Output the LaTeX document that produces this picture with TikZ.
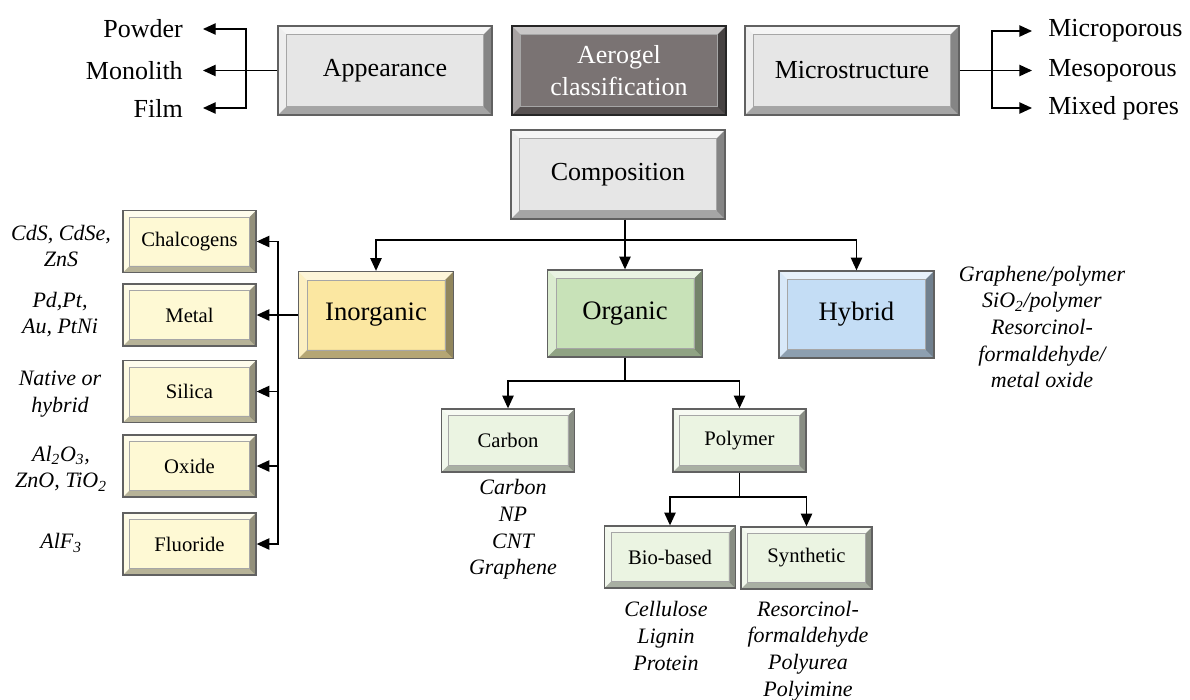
\documentclass[tikz,border=0pt]{standalone}
\usepackage{fontspec}
\setmainfont{Liberation Serif}
\usetikzlibrary{arrows.meta,calc}
\definecolor{facegray}{HTML}{E6E6E6}
\definecolor{faceaero}{HTML}{7A7373}
\definecolor{faceinorg}{HTML}{FBE7A1}
\definecolor{faceorg}{HTML}{C8E2B8}
\definecolor{facehyb}{HTML}{C4DDF5}
\definecolor{faceyel}{HTML}{FEF9D4}
\definecolor{facegrn}{HTML}{EBF4E2}
\tikzset{
  bv/.store in=\bvw, bv=6.5pt,
  bevel/.style={fill=#1, draw=black!62, line width=1pt, inner sep=0pt, align=center,
    path picture={
      \coordinate (q1) at (path picture bounding box.north west);
      \coordinate (q2) at (path picture bounding box.north east);
      \coordinate (q3) at (path picture bounding box.south east);
      \coordinate (q4) at (path picture bounding box.south west);
      \fill[white,opacity=.6] (q1) -- (q2) -- ([shift={(-\bvw,-\bvw)}]q2) -- ([shift={(\bvw,-\bvw)}]q1) -- cycle;
      \fill[white,opacity=.35] (q1) -- ([shift={(\bvw,-\bvw)}]q1) -- ([shift={(\bvw,\bvw)}]q4) -- (q4) -- cycle;
      \fill[black,opacity=.42] (q2) -- (q3) -- ([shift={(-\bvw,\bvw)}]q3) -- ([shift={(-\bvw,-\bvw)}]q2) -- cycle;
      \fill[black,opacity=.28] (q4) -- (q3) -- ([shift={(-\bvw,\bvw)}]q3) -- ([shift={(\bvw,\bvw)}]q4) -- cycle;
      \draw[black!35, line width=0.4pt] ([shift={(\bvw,-\bvw)}]q1) rectangle ([shift={(-\bvw,\bvw)}]q3);
    }},
  topbox/.style={bevel=#1, minimum width=160.5pt, minimum height=66.75pt, font=\fontsize{19.5}{24}\selectfont},
  midbox/.style={bevel=#1, minimum width=116.25pt, minimum height=65.25pt, font=\fontsize{20}{24}\selectfont},
  smallbox/.style={bevel=#1, bv=5pt, minimum width=99.75pt, minimum height=46.5pt, font=\fontsize{15.5}{19}\selectfont},
  lbl/.style={inner ysep=0pt, inner xsep=15pt, font=\fontsize{19.5}{24}\selectfont},
  lbr/.style={inner ysep=0pt, inner xsep=12pt, font=\fontsize{19.5}{24}\selectfont},
  itl/.style={align=center, inner sep=0pt, font=\fontsize{16.5}{20}\selectfont\itshape},
  arr/.style={line width=1pt, -{Triangle[length=9.5pt,width=8.5pt]}},
  ln/.style={line width=1pt}
}
\begin{document}
\begin{tikzpicture}[x=0.75pt,y=-0.75pt]
\useasboundingbox (0,0) rectangle (1190,700);

% top row
\node[topbox=facegray] (app) at (385,70.5) {Appearance};
\node[topbox=faceaero, draw=black!85, text=white] (aero) at (619,70.5) {Aerogel\\classification};
\node[topbox=facegray] (micro) at (852,70.5) {Microstructure};
\node[topbox=facegray] (comp) at (618,174.5) {Composition};

% appearance labels
\node[lbl, anchor=east] (pow) at (203,29) {Powder};
\node[lbl, anchor=east] (mono) at (203,70.5) {Monolith};
\node[lbl, anchor=east] (film) at (203,108) {Film};
\coordinate (jl) at (246,70.5);
\draw[arr] (app.west) -- (mono.east);
\draw[arr] (jl) |- (pow.east);
\draw[arr] (jl) |- (film.east);

% microstructure labels
\node[lbr, anchor=west] (micp) at (1032,31) {Microporous};
\node[lbr, anchor=west] (meso) at (1032,70.5) {Mesoporous};
\node[lbr, anchor=west] (mix) at (1032,108) {Mixed pores};
\coordinate (jr) at (992,70.5);
\draw[arr] (micro.east) -- (meso.west);
\draw[arr] (jr) |- (micp.west);
\draw[arr] (jr) |- (mix.west);

% composition branches
\node[midbox=faceinorg] (inorg) at (376,315) {Inorganic};
\node[midbox=faceorg] (org) at (625,313.5) {Organic};
\node[midbox=facehyb] (hyb) at (856.5,314.5) {Hybrid};
\coordinate (jc) at (625,240);
\draw[ln] (comp.south -| jc) -- (jc);
\draw[arr] (jc) -| (inorg.north);
\draw[arr] (jc) -- (org.north);
\draw[arr] (jc) -| (hyb.north);

% inorganic sub-boxes
\node[smallbox=faceyel] (chal) at (189.5,241.5) {Chalcogens};
\node[smallbox=faceyel] (metal) at (189.5,315) {Metal};
\node[smallbox=faceyel] (silica) at (189.5,391.5) {Silica};
\node[smallbox=faceyel] (oxide) at (189.5,466) {Oxide};
\node[smallbox=faceyel] (fluor) at (189.5,544) {Fluoride};
\coordinate (ji) at (278,315);
\draw[ln] (inorg.west) -- (ji);
\draw[arr] (ji) -- (metal.east);
\draw[arr] (ji) |- (chal.east);
\draw[arr] (ji) |- (fluor.east);
\draw[arr] (silica.east -| ji) -- (silica.east);
\draw[arr] (oxide.east -| ji) -- (oxide.east);

\node[itl] (tchal) at (61,246) {CdS, CdSe,\\ZnS};
\node[itl] (tmetal) at (60,314.5) {Pd,Pt,\\Au, PtNi};
\node[itl] (tsil) at (60,394) {Native or\\hybrid};
\node[itl] (toxi) at (61,468.5) {Al\textsubscript{2}O\textsubscript{3},\\ZnO, TiO\textsubscript{2}};
\node[itl] (tfluo) at (61,543) {AlF\textsubscript{3}};

% hybrid text
\node[itl] (thyb) at (1042,327) {Graphene/polymer\\SiO\textsubscript{2}/polymer\\Resorcinol-\\formaldehyde/\\metal oxide};

% organic sub-boxes
\node[smallbox=facegrn, minimum height=47.25pt] (carbon) at (508,440.5) {Carbon};
\node[smallbox=facegrn, minimum height=47.25pt] (poly) at (739.5,440.5) {Polymer};
\coordinate (jo) at (625,381);
\draw[ln] (org.south) -- (jo);
\draw[arr] (jo) -| (carbon.north);
\draw[arr] (jo) -| (poly.north);

\node[itl] (tcarb) at (513,529.5) {Carbon\\NP\\CNT\\Graphene};

% polymer sub-boxes
\node[smallbox=facegrn, minimum width=98.25pt] (bio) at (670,557) {Bio-based};
\node[smallbox=facegrn, minimum width=98.25pt] (syn) at (806.5,558) {Synthetic};
\coordinate (jp) at (739.5,497);
\draw[ln] (poly.south) -- (jp);
\draw[arr] (jp) -| (bio.north);
\draw[arr] (jp) -| (syn.north);

\node[itl] (tbio) at (666,636) {Cellulose\\Lignin\\Protein};
\node[itl] (tsyn) at (808,651) {Resorcinol-\\formaldehyde\\Polyurea\\Polyimine};
\end{tikzpicture}
\end{document}
